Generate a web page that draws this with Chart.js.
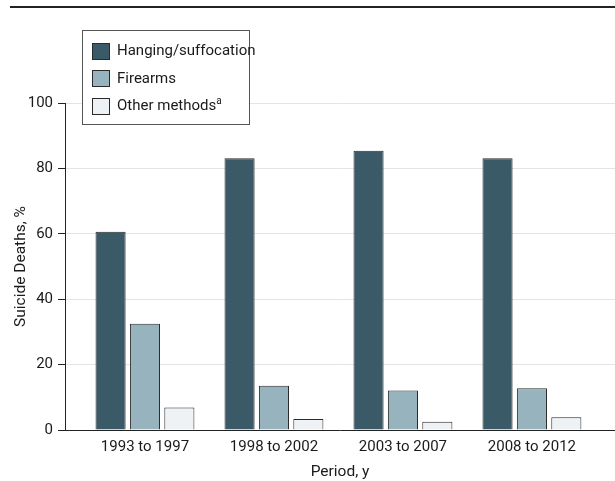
<!DOCTYPE html>
<html>
<head>
<meta charset="utf-8">
<script src="https://cdn.jsdelivr.net/npm/chart.js@4"></script>
<style>
    body { margin: 0; background: #fff; }
    #wrap { position: relative; width: 615px; height: 481px; }
    #rule { position: absolute; left: 10px; top: 6px; width: 605px; height: 2px; background: #222; }
    #legend {
        position: absolute; left: 82px; top: 30px; width: 168px; height: 95px;
        border: 1px solid #555; background: #fff; box-sizing: border-box;
        font-family: Roboto, sans-serif;
        font-size: 15px; color: #1a1a1a;
    }
    .item { position: absolute; left: 9px; height: 19px; line-height: 19px; white-space: nowrap; }
    .sw { display: inline-block; width: 18px; height: 17px; border: 1px solid #2a2a2a; box-sizing: border-box; vertical-align: middle; margin-right: 7px; }
    sup { font-size: 10px; line-height: 0; }
</style>
</head>
<body>
<div id="wrap">
    <canvas id="chart" width="615" height="481"></canvas>
    <div id="rule"></div>
    <div id="legend"></div>
</div>
<script>
var periods = ['1993 to 1997', '1998 to 2002', '2003 to 2007', '2008 to 2012'];
var seriesNames = ['Hanging/suffocation', 'Firearms', 'Other methods'];
var hanging = [60.6, 83.1, 85.4, 83.1];
var firearms = [32.5, 13.5, 12.1, 12.8];
var otherMethods = [6.9, 3.4, 2.5, 3.9];
var yTicks = [0, 20, 40, 60, 80, 100];

var colors = ['#3a5a67', '#97b3be', '#eef2f5'];
var font = 'Roboto, sans-serif';

function points(values) {
    return values.map(function (v, i) { return { x: i, y: v }; });
}

var allSeries = [hanging, firearms, otherMethods];
var datasets = allSeries.map(function (values, i) {
    return {
        label: seriesNames[i],
        data: points(values),
        backgroundColor: colors[i],
        borderColor: '#2a2a2a',
        borderWidth: 1,
        categoryPercentage: 0.8,
        barPercentage: 0.875
    };
});

// legend drawn as html box over the plot
var legend = document.getElementById('legend');
seriesNames.forEach(function (name, i) {
    var item = document.createElement('div');
    item.className = 'item';
    item.style.top = (10 + i * 27.5) + 'px';
    item.innerHTML = '<span class="sw" style="background:' + colors[i] + '"></span>' + name +
        (i === 2 ? '<sup>a</sup>' : '');
    legend.appendChild(item);
});

var ctx = document.getElementById('chart');
var myChart = new Chart(ctx, {
    type: 'bar',
    data: { datasets: datasets },
    options: {
        responsive: false,
        animation: false,
        layout: { padding: { top: 103, right: 0, bottom: 0, left: 0 } },
        plugins: { legend: { display: false }, tooltip: { enabled: false } },
        scales: {
            x: {
                type: 'linear',
                offset: false,
                min: -0.62,
                max: 3.644,
                grid: { display: true, offset: false, drawOnChartArea: false, drawTicks: false },
                border: { display: true, color: '#222', width: 1 },
                ticks: {
                    stepSize: 1,
                    includeBounds: false,
                    autoSkip: false,
                    maxRotation: 0,
                    padding: 8,
                    color: '#1a1a1a',
                    font: { family: font, size: 15 },
                    callback: function (v) { return periods[v] !== undefined ? periods[v] : ''; }
                },
                title: {
                    display: true,
                    text: 'Period, y',
                    color: '#1a1a1a',
                    padding: { top: 11, bottom: 0 },
                    font: { family: font, size: 15.5 }
                },
                afterFit: function (scale) { scale.height = 51; }
            },
            y: {
                min: 0,
                max: 100,
                grid: { color: '#e4e4e4', tickColor: '#222', tickLength: 7, lineWidth: 1 },
                border: { display: true, color: '#222', width: 1 },
                afterBuildTicks: function (scale) {
                    scale.ticks = yTicks.map(function (v) { return { value: v }; });
                },
                ticks: {
                    padding: 5,
                    color: '#1a1a1a',
                    font: { family: font, size: 15 }
                },
                title: {
                    display: true,
                    text: 'Suicide Deaths, %',
                    color: '#1a1a1a',
                    padding: { top: 12, bottom: 4 },
                    font: { family: font, size: 15.5 }
                },
                afterFit: function (scale) { scale.width = 65; }
            }
        }
    }
});
</script>
</body>
</html>
